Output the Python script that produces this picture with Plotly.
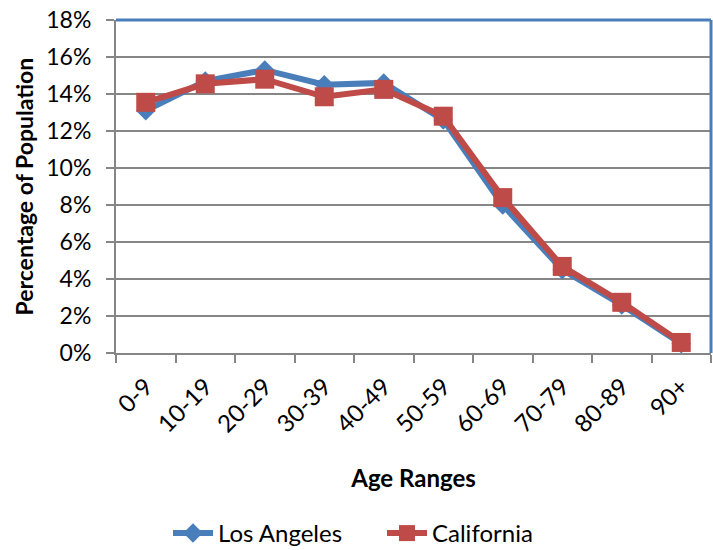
import plotly.graph_objects as go

age_ranges = ["0-9", "10-19", "20-29", "30-39", "40-49", "50-59", "60-69", "70-79", "80-89", "90+"]
los_angeles = [0.131, 0.147, 0.153, 0.145, 0.146, 0.126, 0.080, 0.045, 0.026, 0.005]
california = [0.1355, 0.1455, 0.148, 0.1385, 0.1425, 0.128, 0.084, 0.0468, 0.0274, 0.0057]
y_ticks = [0, 0.02, 0.04, 0.06, 0.08, 0.10, 0.12, 0.14, 0.16, 0.18]

FONT = "Lato"
GRAY = "#868686"
BLUE = "#4A7EBB"
RED = "#BE4B48"

fig = go.Figure()
fig.add_trace(go.Scatter(
    x=age_ranges, y=los_angeles, name="Los Angeles", mode="lines+markers",
    line=dict(color=BLUE, width=6),
    marker=dict(symbol="diamond", size=15, color=BLUE),
))
fig.add_trace(go.Scatter(
    x=age_ranges, y=california, name="California", mode="lines+markers",
    line=dict(color=RED, width=6),
    marker=dict(symbol="square", size=19, color=RED),
))

fig.update_layout(
    width=713, height=550,
    margin=dict(l=116, r=2, t=20, b=197),
    paper_bgcolor="white", plot_bgcolor="white",
    font=dict(family=FONT, size=23, color="black"),
    showlegend=True,
    legend=dict(orientation="h", xref="container", x=168 / 713, xanchor="left",
                yref="container", y=0.03, yanchor="middle",
                font=dict(size=24, family=FONT), itemwidth=40,
                entrywidth=159, entrywidthmode="pixels"),
    xaxis=dict(
        type="category", range=[-0.5, 9.5], tickson="boundaries",
        showline=True, linecolor=GRAY, linewidth=2,
        ticks="outside", ticklen=8, tickwidth=2, tickcolor=GRAY,
        tickangle=-45, tickfont=dict(size=24, family=FONT),
        ticklabelstandoff=8,
        showgrid=False, zeroline=False,
        title=dict(text="<b>Age Ranges</b>", font=dict(size=24, family=FONT), standoff=34),
        automargin=False,
    ),
    yaxis=dict(
        range=[0, 0.18], tickvals=y_ticks, tickformat=".0%",
        showline=True, linecolor=GRAY, linewidth=2,
        ticks="outside", ticklen=8, tickwidth=2, tickcolor=GRAY,
        tickfont=dict(size=23, family=FONT),
        ticklabelstandoff=10,
        showgrid=True, gridcolor=GRAY, gridwidth=1.5, zeroline=False,
        automargin=False,
    ),
    annotations=[
        dict(text="<b>Percentage of Population</b>", xref="paper", yref="paper",
             x=(23 - 116) / 595, y=0.5, xanchor="center", yanchor="middle",
             textangle=-90, showarrow=False, font=dict(size=23, family=FONT)),
    ],
    shapes=[
        dict(type="line", xref="paper", yref="paper", x0=0, x1=1, y0=1, y1=1,
             line=dict(color=BLUE, width=3), layer="above"),
        dict(type="line", xref="paper", yref="paper", x0=1, x1=1, y0=0, y1=1,
             line=dict(color=BLUE, width=3), layer="above"),
    ],
)

fig.write_html("out.html", config={"displayModeBar": False},
               post_script="document.body.style.margin='0';")
